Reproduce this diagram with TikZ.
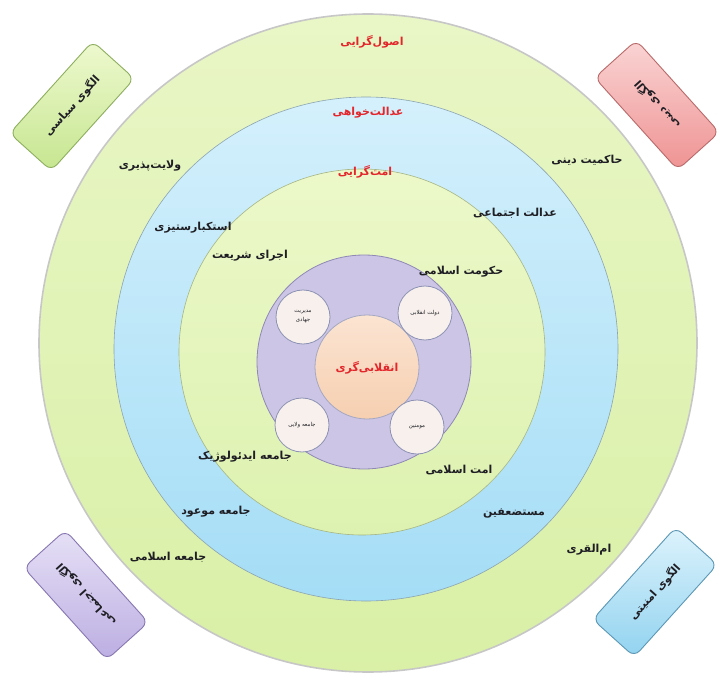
\documentclass[tikz,border=0pt]{standalone}
\usepackage{fontspec}
\newfontfamily\fa[Script=Arabic]{DejaVu Sans}
\TeXXeTstate=1
\newcommand{\fatxt}[1]{\fa\beginR #1\endR}
\definecolor{outTop}{HTML}{E9F6C6}
\definecolor{outBot}{HTML}{D9F0A6}
\definecolor{bluTop}{HTML}{D4F0FC}
\definecolor{bluBot}{HTML}{A4DDF6}
\definecolor{grnTop}{HTML}{ECF8C9}
\definecolor{grnBot}{HTML}{DDF2B0}
\definecolor{purFill}{HTML}{CCC5E5}
\definecolor{purEdge}{HTML}{8F88B6}
\definecolor{orgTop}{HTML}{FBE4D2}
\definecolor{orgBot}{HTML}{F6CFB0}
\definecolor{smFill}{HTML}{F7F0EC}
\definecolor{smEdge}{HTML}{8D92B4}
\definecolor{redTxt}{HTML}{E3262B}
\definecolor{txt}{HTML}{1E1E24}
\definecolor{bxGa}{HTML}{EEF9CF}
\definecolor{bxGb}{HTML}{C6E690}
\definecolor{bxGe}{HTML}{8DAE5E}
\definecolor{bxRa}{HTML}{FAD4D4}
\definecolor{bxRb}{HTML}{EF9393}
\definecolor{bxRe}{HTML}{B86A6A}
\definecolor{bxPa}{HTML}{E6E0F6}
\definecolor{bxPb}{HTML}{BCAEE2}
\definecolor{bxPe}{HTML}{8677B0}
\definecolor{bxBa}{HTML}{DDF3FC}
\definecolor{bxBb}{HTML}{92D3F0}
\definecolor{bxBe}{HTML}{5C97B4}
\tikzset{
  ring/.style={circle, inner sep=0pt, outer sep=0pt},
  small/.style={circle, inner sep=0pt, minimum size=54pt, fill=smFill, draw=smEdge, line width=0.8pt,
    font=\fa\fontsize{5.5}{7}\selectfont, text=txt, align=center},
  lab/.style={font=\fa\bfseries\fontsize{11}{13}\selectfont, text=txt, inner sep=1pt},
  redlab/.style={font=\fa\bfseries\fontsize{11}{13}\selectfont, text=redTxt, inner sep=1pt},
  corner/.style={rounded corners=8pt, minimum width=124pt, minimum height=56pt, line width=0.9pt,
    font=\fa\bfseries\fontsize{11}{13}\selectfont, text=txt, inner sep=2pt}
}
\begin{document}
\begin{tikzpicture}[x=1pt,y=-1pt]
\useasboundingbox[fill=white] (0,0) rectangle (721,677);
% rings
\node[ring, minimum size=658pt, top color=outTop, bottom color=outBot, draw=black!22, line width=1.6pt] (outer) at (368,343) {};
\node[ring, minimum size=504pt, top color=bluTop, bottom color=bluBot, draw=white!40!bluBot!70!black, line width=0.6pt] (blue) at (366,349) {};
\node[ring, minimum size=366pt, top color=grnTop, bottom color=grnBot, draw=grnBot!75!black, line width=0.6pt] (green) at (362,352) {};
\node[ring, minimum size=214pt, fill=purFill, draw=purEdge, line width=0.8pt] (purple) at (364,362) {};
\node[ring, minimum size=104pt, top color=orgTop, bottom color=orgBot, draw=smEdge!80, line width=0.8pt] (core) at (367,367) {};
% small circles
\node[small] (modir) at (303,317) {\fatxt{مدیریت}\\[2pt]\fatxt{جهادی}};
\node[small] (dolat) at (425,313) {\fatxt{دولت انقلابی}};
\node[small] (jvel) at (302,425) {\fatxt{جامعه ولایی}};
\node[small] (momen) at (417,427) {\fatxt{مومنین}};
% ring titles
\node[redlab] (t1) at (372,42) {\fatxt{اصول‌گرایی}};
\node[redlab] (t2) at (368,113) {\fatxt{عدالت‌خواهی}};
\node[redlab] (t3) at (365,172) {\fatxt{امت‌گرایی}};
\node[redlab] (t4) at (367,368) {\fatxt{انقلابی‌گری}};
% labels
\node[lab] (l1) at (150,166) {\fatxt{ولایت‌پذیری}};
\node[lab] (l2) at (587,160) {\fatxt{حاکمیت دینی}};
\node[lab] (l3) at (193,228) {\fatxt{استکبارستیزی}};
\node[lab] (l4) at (515,213) {\fatxt{عدالت اجتماعی}};
\node[lab] (l5) at (250,256) {\fatxt{اجرای شریعت}};
\node[lab] (l6) at (461,272) {\fatxt{حکومت اسلامی}};
\node[lab] (l7) at (245,457) {\fatxt{جامعه ایدئولوژیک}};
\node[lab] (l8) at (459,470) {\fatxt{امت اسلامی}};
\node[lab] (l9) at (216,512) {\fatxt{جامعه موعود}};
\node[lab] (l10) at (514,513) {\fatxt{مستضعفین}};
\node[lab] (l11) at (168,557) {\fatxt{جامعه اسلامی}};
\node[lab] (l12) at (589,550) {\fatxt{ام‌القری}};
% corner boxes
\node[corner, rotate=48, draw=bxGe, top color=bxGa, bottom color=bxGb] (pol) at (72,106) {\fatxt{الگوی سیاسی}};
\node[corner, rotate=132, draw=bxRe, top color=bxRa, bottom color=bxRb] (din) at (657,105) {\fatxt{الگوی دینی}};
\node[corner, rotate=132, draw=bxPe, top color=bxPa, bottom color=bxPb] (ejt) at (86,595) {\fatxt{الگوی اجتماعی}};
\node[corner, rotate=48, draw=bxBe, top color=bxBa, bottom color=bxBb] (amn) at (655,592) {\fatxt{الگوی امنیتی}};
\end{tikzpicture}
\end{document}
